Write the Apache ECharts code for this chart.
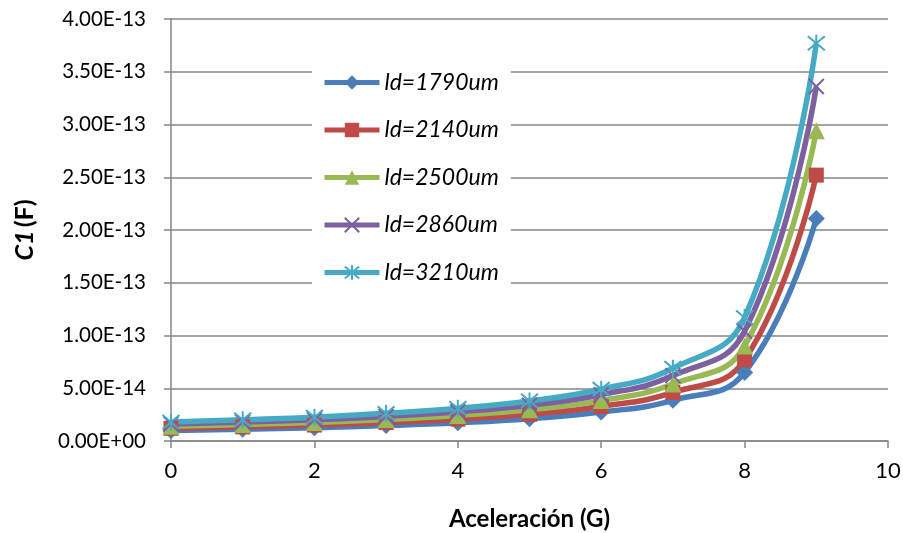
<!DOCTYPE html>
<html>
<head>
<meta charset="utf-8">
<script src="https://cdn.jsdelivr.net/npm/echarts@6/dist/echarts.min.js"></script>
<style>
  html, body { margin: 0; padding: 0; background: #fff; }
  #chart { width: 903px; height: 533px; }
</style>
</head>
<body>
<div id="chart"></div>
<script>
// Acceleration (G) on the x axis
const accel = [0, 1, 2, 3, 4, 5, 6, 7, 8, 9];

// Series names
const seriesNames = ['ld=1790um', 'ld=2140um', 'ld=2500um', 'ld=2860um', 'ld=3210um'];

// C1 capacitance (F) for each ld
const c1_1790 = [1.00e-14, 1.12e-14, 1.26e-14, 1.46e-14, 1.73e-14, 2.12e-14, 2.74e-14, 3.86e-14, 6.5e-14, 2.11e-13];
const c1_2140 = [1.20e-14, 1.34e-14, 1.51e-14, 1.75e-14, 2.07e-14, 2.53e-14, 3.27e-14, 4.60e-14, 7.7e-14, 2.52e-13];
const c1_2500 = [1.40e-14, 1.56e-14, 1.76e-14, 2.04e-14, 2.42e-14, 2.96e-14, 3.83e-14, 5.40e-14, 9.0e-14, 2.94e-13];
const c1_2860 = [1.60e-14, 1.79e-14, 2.02e-14, 2.33e-14, 2.77e-14, 3.39e-14, 4.38e-14, 6.20e-14, 10.4e-14, 3.36e-13];
const c1_3210 = [1.79e-14, 2.01e-14, 2.26e-14, 2.62e-14, 3.10e-14, 3.80e-14, 4.91e-14, 6.90e-14, 11.7e-14, 3.77e-13];

const seriesValues = [c1_1790, c1_2140, c1_2500, c1_2860, c1_3210];

const colors = ['#4A7EBB', '#BE4B48', '#98B954', '#7D60A0', '#46AAC5'];
const symbols = [
  'diamond',
  'rect',
  'triangle',
  'path://M0,0L10,10M10,0L0,10',
  'path://M0,1L10,11M10,1L0,11M5,0L5,12'
];
const symbolSizes = [17, 15, 17, 15, 17];

const FONT = 'Lato, "Liberation Sans", sans-serif';

function sciLabel(v) {
  let s = Number(v).toExponential(2).toUpperCase();
  // pad the exponent to two digits: E-13, E+00
  return s.replace(/E([+-])(\d)$/, 'E$10$2');
}

const chart = echarts.init(document.getElementById('chart'), null, { renderer: 'canvas' });

const series = seriesNames.map((name, i) => ({
  name: name,
  type: 'line',
  data: accel.map((x, j) => [x, seriesValues[i][j]]),
  smooth: 0.45,
  symbol: symbols[i],
  symbolSize: symbolSizes[i],
  showAllSymbol: true,
  lineStyle: { color: colors[i], width: 5.5 },
  itemStyle: {
    color: i >= 3 ? 'rgba(0,0,0,0)' : colors[i],
    borderColor: colors[i],
    borderWidth: i >= 3 ? 2 : 0
  },
  emphasis: { disabled: true },
  animation: false
}));

chart.setOption({
  animation: false,
  backgroundColor: '#ffffff',
  grid: { left: 171, right: 15, top: 19, bottom: 92, containLabel: false, outerBoundsMode: 'none' },
  legend: {
    orient: 'vertical',
    left: 312,
    top: 63,
    padding: [8, 12, 8, 10],
    backgroundColor: '#ffffff',
    itemWidth: 55,
    itemHeight: 18,
    itemGap: 24.5,
    lineStyle: { width: 5 },
    textStyle: { fontFamily: FONT, fontStyle: 'italic', fontSize: 23, color: '#000' },
    data: seriesNames
  },
  xAxis: {
    type: 'value',
    min: 0,
    max: 10,
    interval: 2,
    name: 'Aceleración (G)',
    nameLocation: 'middle',
    nameGap: 66,
    nameTextStyle: { fontFamily: FONT, fontWeight: 'bold', fontSize: 24, color: '#000' },
    axisLine: { show: true, lineStyle: { color: '#868686', width: 1.5 } },
    axisTick: { show: true, inside: false, length: 7, lineStyle: { color: '#868686', width: 1.5 } },
    axisLabel: { fontFamily: FONT, fontSize: 22, color: '#000', margin: 19 },
    splitLine: { show: false }
  },
  yAxis: {
    type: 'value',
    min: 0,
    max: 4e-13,
    interval: 5e-14,
    name: '{i|C1} {b|(F)}',
    nameLocation: 'middle',
    nameGap: 134,
    nameRotate: 90,
    nameTextStyle: {
      rich: {
        i: { fontFamily: FONT, fontWeight: 'bold', fontStyle: 'italic', fontSize: 25, color: '#000' },
        b: { fontFamily: FONT, fontWeight: 'bold', fontSize: 25, color: '#000' }
      }
    },
    axisLine: { show: true, lineStyle: { color: '#868686', width: 1.5 } },
    axisTick: { show: true, inside: false, length: 7, lineStyle: { color: '#868686', width: 1.5 } },
    axisLabel: { fontFamily: FONT, fontSize: 20.5, color: '#000', margin: 25, formatter: sciLabel },
    splitLine: { show: true, lineStyle: { color: '#868686', width: 1.5 } }
  },
  series: series
});
</script>
</body>
</html>
